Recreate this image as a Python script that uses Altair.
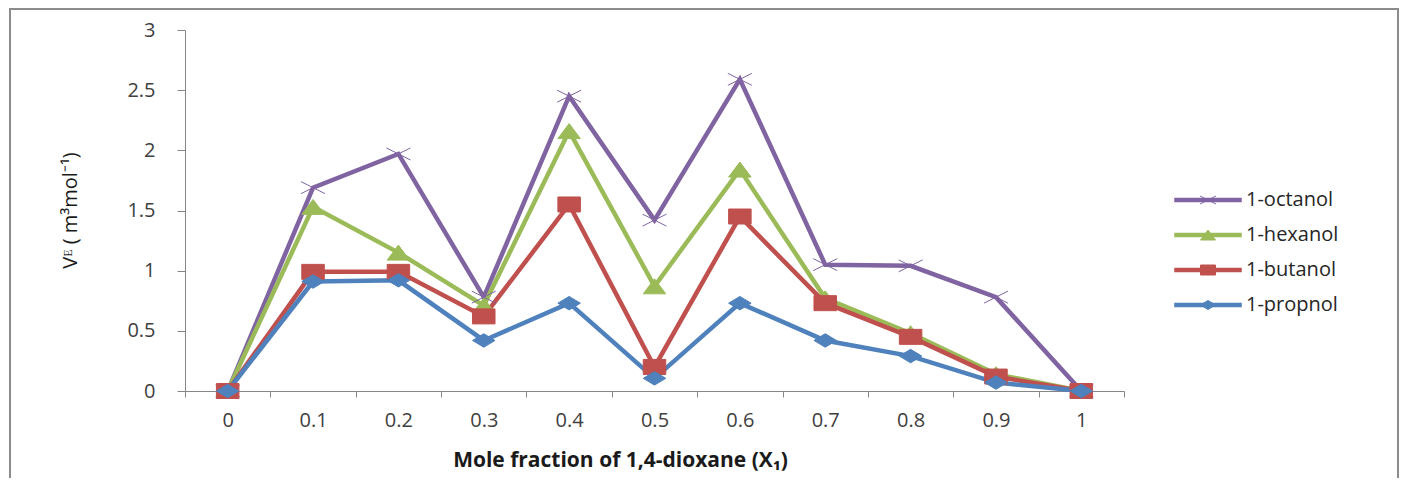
import altair as alt
import pandas as pd

x_labels = ["0", "0.1", "0.2", "0.3", "0.4", "0.5", "0.6", "0.7", "0.8", "0.9", "1"]
series_names = ["1-octanol", "1-hexanol", "1-butanol", "1-propnol"]
octanol = [0, 1.69, 1.97, 0.78, 2.45, 1.42, 2.59, 1.05, 1.04, 0.78, 0]
hexanol = [0, 1.53, 1.15, 0.71, 2.16, 0.87, 1.84, 0.77, 0.48, 0.14, 0]
butanol = [0, 0.99, 0.99, 0.62, 1.55, 0.20, 1.45, 0.73, 0.45, 0.12, 0]
propnol = [0, 0.91, 0.92, 0.42, 0.73, 0.105, 0.73, 0.42, 0.29, 0.07, 0]
series_colors = ["#8064A2", "#9BBB59", "#C0504D", "#4F81BD"]
series_shapes = [
    "M-1.6,-0.8L1.6,0.8M-1.6,0.8L1.6,-0.8",
    "M0,-1L1.5,1L-1.5,1Z",
    "M-1.5,-1L1.5,-1L1.5,1L-1.5,1Z",
    "M0,-0.9L1.5,0L0,0.9L-1.5,0Z",
]
y_ticks = [0, 0.5, 1, 1.5, 2, 2.5, 3]

rows = []
for name, vals in zip(series_names, [octanol, hexanol, butanol, propnol]):
    for x, v in zip(x_labels, vals):
        rows.append({"x": x, "v": v, "series": name})
df = pd.DataFrame(rows)

FONT = "Open Sans"

xenc = alt.X(
    "x:O", sort=x_labels,
    scale=alt.Scale(type="band", paddingInner=0, paddingOuter=0),
    axis=alt.Axis(
        title="Mole fraction of 1,4-dioxane (X\u2081)", tickBand="extent", labelAngle=0,
        domainColor="#868686", tickColor="#868686", tickSize=6, labelFont=FONT,
        labelFontSize=20, labelColor="#404040", labelPadding=13, titleFont=FONT,
        titleFontWeight="bold", titleFontSize=21, titleColor="#1a1a1a",
        titleX=435, titleY=69, titleBaseline="middle", titleAlign="center", grid=False,
    ),
)
yenc = alt.Y(
    "v:Q",
    scale=alt.Scale(domain=[0, 3], nice=False),
    axis=alt.Axis(
        values=y_ticks, format="~g", title="V\u1d31 ( m\u00b3mol\u207b\u00b9)",
        domainColor="#868686", tickColor="#868686", tickSize=8, labelFont=FONT,
        labelFontSize=20, labelColor="#404040", labelPadding=22, titleFont=FONT,
        titleFontWeight="normal", titleFontSize=20, titleColor="#1a1a1a",
        titleX=-115, titleY=180, titleAngle=270, titleAlign="center",
        titleBaseline="middle", grid=False,
    ),
)

color_scale = alt.Scale(domain=series_names, range=series_colors)

line_legend = alt.Legend(
    title=None, orient="none", legendX=1013, legendY=160, padding=0,
    labelFont=FONT, labelFontSize=20, labelColor="#262626", rowPadding=15,
    symbolType="M-4.5,0L4.5,0", symbolSize=225, symbolStrokeWidth=4.5, labelOffset=28,
)
point_legend = alt.Legend(
    title=None, orient="none", legendX=1013, legendY=160, padding=0,
    labelFont=FONT, labelFontSize=20, labelOpacity=0, rowPadding=15,
    symbolStrokeWidth=1, labelOffset=28,
)

lines = alt.Chart(df).mark_line(strokeWidth=4.5).encode(
    x=xenc, y=yenc,
    color=alt.Color("series:N", scale=color_scale, legend=line_legend),
)
points = alt.Chart(df).mark_point(filled=True, size=225, strokeWidth=1, opacity=1).encode(
    x=xenc, y=yenc,
    color=alt.Color("series:N", scale=color_scale, legend=point_legend),
    stroke=alt.Stroke("series:N", scale=color_scale, legend=point_legend),
    shape=alt.Shape("series:N", scale=alt.Scale(domain=series_names, range=series_shapes), legend=point_legend),
)
border = alt.Chart(alt.Data(values=[{}])).mark_rect(
    fill="transparent", stroke="#8c8c8c", strokeWidth=2
).encode(x=alt.value(-175), x2=alt.value(1213), y=alt.value(-21), y2=alt.value(470))

chart = alt.layer(border, lines, points).resolve_legend(
    color="independent", shape="independent", stroke="independent"
).properties(
    width=939, height=361,
    autosize=alt.AutoSizeParams(type="none"),
    padding={"left": 177, "top": 22, "right": 277, "bottom": 87},
).configure_view(strokeWidth=0)

chart.save("out.html", embed_options={"renderer": "svg", "actions": False})
